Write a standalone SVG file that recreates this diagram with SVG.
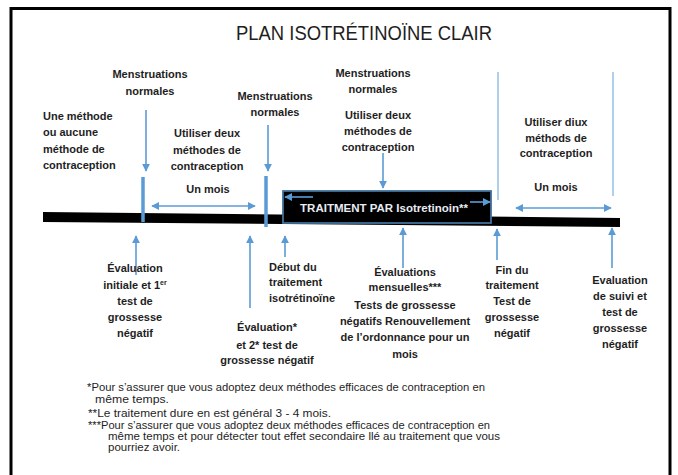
<svg xmlns="http://www.w3.org/2000/svg" width="678" height="475" viewBox="0 0 678 475">
<style>
text{font-family:"Liberation Sans",Arial,sans-serif;fill:#1e1e1e}
.t{font-size:11px;font-weight:bold}
.c{text-anchor:middle}
.fn{font-size:10.5px}
.ttl{font-size:21px}
.ln{stroke:#5b9bd5;stroke-width:1.6;fill:none}
.lt{stroke:#9dc3e6;stroke-width:1.6;fill:none}
.mk{stroke:#5b9bd5;stroke-width:3.5;fill:none}
</style>
<defs>
<marker id="ah" viewBox="0 0 10 10" refX="9" refY="5" markerWidth="8" markerHeight="8" markerUnits="userSpaceOnUse" orient="auto-start-reverse">
<path d="M0,0 L10,5 L0,10 Z" fill="#5b9bd5"/>
</marker>
</defs>
<rect width="678" height="475" fill="#fff"/>
<path d="M11,478 V8.5 H670 V478" fill="none" stroke="#000" stroke-width="3"/>
<text class="ttl c" x="364" y="40" textLength="256" lengthAdjust="spacingAndGlyphs">PLAN ISOTRÉTINOÏNE CLAIR</text>

<g id="timeline">
<polygon points="43,212 620,218 620,227 43,222" fill="#000"/>
</g>

<g id="treatment">
<rect x="283" y="191" width="208" height="32" fill="#000" stroke="#41719c" stroke-width="1.8"/>
<text x="384" y="212" class="c" style="font-size:11.5px;font-weight:bold;fill:#e8ecf4">TRAITMENT PAR  Isotretinoin**</text>
</g>

<g id="connectors">
<line class="ln" x1="313" y1="197" x2="285" y2="197" marker-end="url(#ah)"/>
<line class="ln" x1="470" y1="202" x2="490" y2="202" marker-end="url(#ah)"/>
<line class="mk" x1="143" y1="177" x2="143" y2="222"/>
<line class="mk" x1="266" y1="176" x2="266" y2="227"/>
<line class="ln" x1="146" y1="110" x2="146" y2="171" marker-end="url(#ah)"/>
<line class="ln" x1="268" y1="125" x2="268" y2="171" marker-end="url(#ah)"/>
<line class="ln" x1="383" y1="153" x2="383" y2="188" marker-end="url(#ah)"/>
<line class="ln" x1="152" y1="206" x2="255" y2="206" marker-start="url(#ah)" marker-end="url(#ah)"/>
<line class="lt" x1="498" y1="72" x2="498" y2="200"/>
<line class="lt" x1="613" y1="72" x2="613" y2="196"/>
<line class="ln" x1="516" y1="208" x2="611" y2="208" marker-start="url(#ah)" marker-end="url(#ah)"/>
<line class="ln" x1="136" y1="275" x2="136" y2="236" marker-end="url(#ah)"/>
<line class="ln" x1="250" y1="308" x2="250" y2="236" marker-end="url(#ah)"/>
<line class="ln" x1="285" y1="257" x2="285" y2="236" marker-end="url(#ah)"/>
<line class="ln" x1="403" y1="268" x2="403" y2="228" marker-end="url(#ah)"/>
<line class="ln" x1="497" y1="260" x2="497" y2="229" marker-end="url(#ah)"/>
<line class="ln" x1="612" y1="268" x2="612" y2="228" marker-end="url(#ah)"/>
</g>

<g id="menstruations1">
<text class="t c" x="150" y="78">Menstruations</text>
<text class="t c" x="150" y="95">normales</text>
</g>
<g id="one-method">
<text class="t" x="43" y="120">Une méthode</text>
<text class="t" x="43" y="136">ou aucune</text>
<text class="t" x="43" y="153">méthode de</text>
<text class="t" x="43" y="169">contraception</text>
</g>
<g id="use-two-1">
<text class="t c" x="207" y="137">Utiliser deux</text>
<text class="t c" x="207" y="154">méthodes de</text>
<text class="t c" x="207" y="170">contraception</text>
<text class="t c" x="208" y="193">Un mois</text>
</g>
<g id="menstruations2">
<text class="t c" x="275" y="100">Menstruations</text>
<text class="t c" x="275" y="116">normales</text>
</g>
<g id="menstruations3">
<text class="t c" x="373" y="77">Menstruations</text>
<text class="t c" x="373" y="93">normales</text>
</g>
<g id="use-two-2">
<text class="t c" x="378" y="119">Utiliser deux</text>
<text class="t c" x="378" y="135">méthodes de</text>
<text class="t c" x="378" y="151">contraception</text>
</g>
<g id="use-two-3">
<text class="t c" x="556" y="126">Utiliser diux</text>
<text class="t c" x="556" y="142">méthods de</text>
<text class="t c" x="556" y="157">contraception</text>
<text class="t c" x="556" y="191">Un mois</text>
</g>

<g id="eval-initial">
<text class="t c" x="135" y="272">Évaluation</text>
<text class="t c" x="135" y="289">initiale et  1<tspan font-size="7" dy="-4">er</tspan></text>
<text class="t c" x="135" y="305">test de</text>
<text class="t c" x="135" y="321">grossesse</text>
<text class="t c" x="135" y="337">négatif</text>
</g>
<g id="eval-2">
<text class="t c" x="267" y="331">Évaluation*</text>
<text class="t c" x="267" y="349">et 2* test de</text>
<text class="t c" x="267" y="364">grossesse négatif</text>
</g>
<g id="start">
<text class="t" x="269" y="271">Début du</text>
<text class="t" x="269" y="286">traitement</text>
<text class="t" x="269" y="302">isotrétinoïne</text>
</g>
<g id="monthly">
<text class="t c" x="405" y="276">Évaluations</text>
<text class="t c" x="405" y="291">mensuelles***</text>
<text class="t c" x="405" y="309">Tests de grossesse</text>
<text class="t c" x="405" y="325">négatifs Renouvellement</text>
<text class="t c" x="405" y="341">de l’ordonnance pour un</text>
<text class="t c" x="405" y="358">mois</text>
</g>
<g id="end">
<text class="t c" x="512" y="274">Fin du</text>
<text class="t c" x="512" y="289">traitement</text>
<text class="t c" x="512" y="305">Test de</text>
<text class="t c" x="512" y="321">grossesse</text>
<text class="t c" x="512" y="337">négatif</text>
</g>
<g id="followup">
<text class="t c" x="620" y="284">Evaluation</text>
<text class="t c" x="620" y="300">de suivi et</text>
<text class="t c" x="620" y="316">test de</text>
<text class="t c" x="620" y="332">grossesse</text>
<text class="t c" x="620" y="348">négatif</text>
</g>

<g id="footnotes">
<text class="fn" x="87" y="391" textLength="398" lengthAdjust="spacingAndGlyphs">*Pour s’assurer que vous adoptez deux méthodes efficaces de contraception en</text>
<text class="fn" x="95" y="403" textLength="74" lengthAdjust="spacingAndGlyphs">même temps.</text>
<text class="fn" x="88" y="417" textLength="243" lengthAdjust="spacingAndGlyphs">**Le traitement dure en est général 3 - 4 mois.</text>
<text class="fn" x="88" y="429" textLength="402" lengthAdjust="spacingAndGlyphs">***Pour s’assurer que vous adoptez deux méthodes efficaces de contraception en</text>
<text class="fn" x="108" y="440" textLength="392" lengthAdjust="spacingAndGlyphs">même temps et pour détecter tout effet  secondaire llé au traitement que vous</text>
<text class="fn" x="108" y="451" textLength="72" lengthAdjust="spacingAndGlyphs">pourriez avoir.</text>
</g>
</svg>
